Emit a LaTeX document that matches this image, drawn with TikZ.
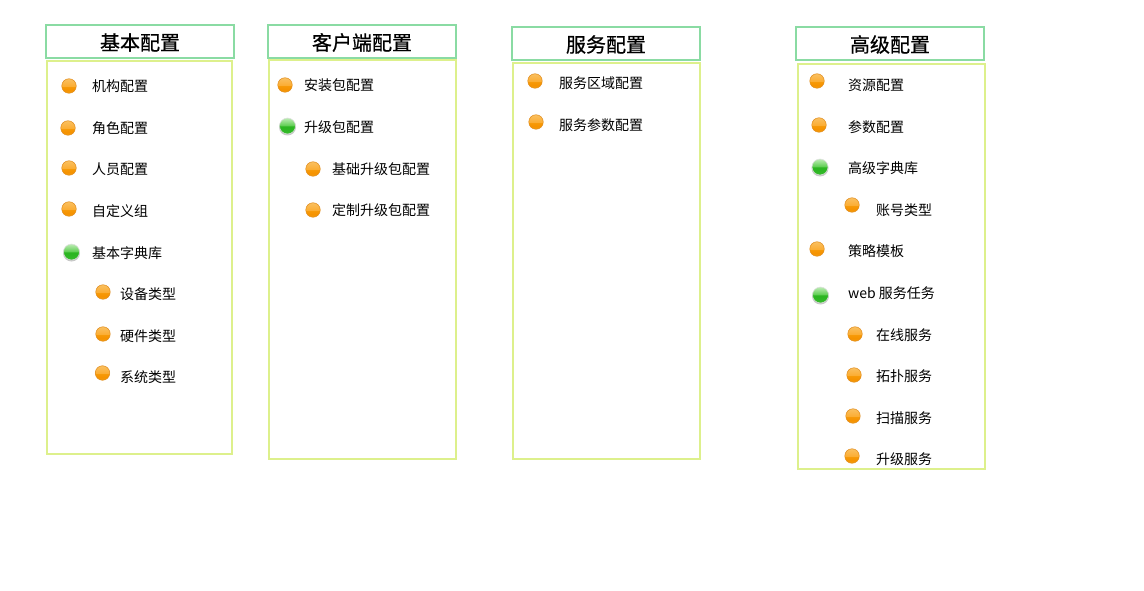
\documentclass[tikz,border=0pt]{standalone}
\usepackage{fontspec}
\setmainfont{Noto Sans CJK SC}
\newfontfamily\titlefont[FakeBold=0.7]{Noto Sans CJK SC}
\definecolor{ofb}{HTML}{F2A018}
\definecolor{oa}{HTML}{F59200}
\definecolor{oc}{HTML}{F79A08}
\definecolor{ob}{HTML}{FBAE35}
\definecolor{oe}{HTML}{FAC060}
\definecolor{ga}{HTML}{2CB522}
\definecolor{gb}{HTML}{62CF55}
\definecolor{gc}{HTML}{38BC2E}
\definecolor{gd}{HTML}{BDECB5}
\definecolor{headline}{HTML}{8ADBA3}
\definecolor{panelline}{HTML}{DDF08C}
\definecolor{orim}{HTML}{E08A18}
\pgfdeclareverticalshading{orangeball}{100bp}{
 color(0bp)=(ofb);color(25bp)=(ofb);color(34bp)=(oa);color(48bp)=(oc);color(50bp)=(ob);color(75bp)=(oe);color(100bp)=(oe)}
\pgfdeclareverticalshading{greenball}{100bp}{
 color(0bp)=(gc);color(25bp)=(gc);color(42bp)=(ga);color(49bp)=(ga);color(52bp)=(gb);color(75bp)=(gd);color(100bp)=(gd)}
\tikzset{
 x=1pt,y=-1pt,
 head/.style={draw=headline,line width=1.3pt,fill=white},
 title/.style={font=\titlefont\fontsize{20}{22}\selectfont,text=black,inner sep=0pt},
 panel/.style={draw=panelline,line width=1.3pt,fill=white},
 label/.style={anchor=west,inner sep=0pt,font=\fontsize{14}{16}\selectfont,text=black},
 obullet/.style={circle,minimum size=14.5pt,inner sep=0pt,draw=orim,line width=.5pt,shading=orangeball},
 gbullet/.style={circle,minimum size=16pt,inner sep=0pt,draw=black!12,line width=.5pt,shading=greenball},
 gshadow/.style={circle,minimum size=17pt,inner sep=0pt,fill=black!22},
}
\newcommand{\headbox}[6]{% name x1 y1 x2 y2 text
 \path[head] (#2,#3) rectangle (#4,#5);
 \node[title] (#1) at ({(#2+#4)/2},{(#3+#5)/2+1}) {#6};}
\newcommand{\oitem}[6]{\node[obullet] (#1b) at (#2,#3) {}; \node[label] (#1) at (#4,#5) {#6};}
\newcommand{\gitem}[6]{\node[gshadow] (#1s) at (#2,#3+1) {}; \node[gbullet] (#1b) at (#2,#3) {}; \node[label] (#1) at (#4,#5) {#6};}
\begin{document}
\begin{tikzpicture}
\useasboundingbox[fill=white] (0,0) rectangle (1144,591);
% panels
\path[panel] (47,61) rectangle (232,454);
\path[panel] (269,60) rectangle (456,459);
\path[panel] (513,63) rectangle (700,459);
\path[panel] (798,64) rectangle (985,469);
% headers
\headbox{h1}{46}{25}{234}{58}{基本配置}
\headbox{h2}{268}{25}{456}{58}{客户端配置}
\headbox{h3}{512}{27}{700}{60}{服务配置}
\headbox{h4}{796}{27}{984}{60}{高级配置}
% column 1
\oitem{a1}{69}{86}{92}{86}{机构配置}
\oitem{a2}{68}{128}{92}{128}{角色配置}
\oitem{a3}{69}{168}{92}{169}{人员配置}
\oitem{a4}{69}{209}{92}{211}{自定义组}
\gitem{a5}{71.5}{252}{92}{253}{基本字典库}
\oitem{a6}{103}{292}{120}{294}{设备类型}
\oitem{a7}{103}{334}{120}{336}{硬件类型}
\oitem{a8}{102.5}{373}{120}{377}{系统类型}
% column 2
\oitem{b1}{285}{85}{304}{85}{安装包配置}
\gitem{b2}{287.5}{126}{304}{127}{升级包配置}
\oitem{b3}{313}{169}{332}{169}{基础升级包配置}
\oitem{b4}{313}{210}{332}{210}{定制升级包配置}
% column 3
\oitem{c1}{535}{81}{559}{83}{服务区域配置}
\oitem{c2}{536}{122}{559}{125}{服务参数配置}
% column 4
\oitem{d1}{817}{81}{848}{85}{资源配置}
\oitem{d2}{819}{125}{848}{127}{参数配置}
\gitem{d3}{820}{167}{848}{168}{高级字典库}
\oitem{d4}{852}{205}{876}{210}{账号类型}
\oitem{d5}{817}{249}{848}{251}{策略模板}
\gitem{d6}{820.5}{295}{848}{293}{web 服务任务}
\oitem{d7}{855}{334}{876}{335}{在线服务}
\oitem{d8}{854}{375}{876}{376}{拓扑服务}
\oitem{d9}{853}{416}{876}{418}{扫描服务}
\oitem{d10}{852}{456}{876}{459}{升级服务}
\end{tikzpicture}
\end{document}
